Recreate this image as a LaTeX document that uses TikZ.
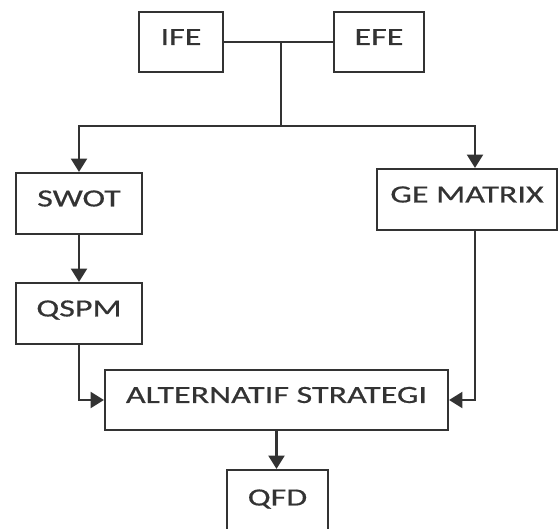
\documentclass[tikz,border=0pt]{standalone}
\usepackage{fontspec}
\setmainfont{Carlito}[FakeStretch=1.38,FakeBold=0.6]
\usetikzlibrary{arrows.meta}
\definecolor{ink}{gray}{0.2}

\begin{document}
\begin{tikzpicture}[x=0.75pt, y=-0.75pt, line width=1.6pt, draw=ink, text=ink]
    \useasboundingbox (0,0) rectangle (560,528);
    \tikzstyle{Box}=[draw, inner sep=0pt, font=\fontsize{18.5}{20}\selectfont,
                     text height=11.9pt, text depth=7.5pt]
    \tikzstyle{EdgeStyle}=[-{Triangle[width=12pt,length=10pt]}]
    \node[Box, minimum width=63pt, minimum height=45pt] (IFE) at (181,42) {IFE};
    \node[Box, minimum width=67.5pt, minimum height=45pt] (EFE) at (379,42) {EFE};
    \node[Box, minimum width=94.5pt, minimum height=45.75pt] (SWOT) at (79,203.5) {SWOT};
    \node[Box, minimum width=135pt, minimum height=45.75pt] (GE) at (467,199.5) {GE MATRIX};
    \node[Box, minimum width=94.5pt, minimum height=45.75pt] (QSPM) at (79,313.5) {QSPM};
    \node[Box, minimum width=257.25pt, minimum height=45pt] (ALT) at (276.5,400) {ALTERNATIF STRATEGI};
    \node[Box, minimum width=75.75pt, minimum height=48.75pt] (QFD) at (277.5,502.5) {QFD};
    \coordinate (join) at (281,42);
    \coordinate (split) at (281,126);
    \draw (IFE) -- (EFE);
    \draw (join) -- (split);
    \draw[EdgeStyle] (split) -| (SWOT);
    \draw[EdgeStyle] (split) -| ([xshift=6pt]GE.north);
    \draw[EdgeStyle] (SWOT) -- (QSPM);
    \draw[EdgeStyle] (QSPM) |- (ALT);
    \draw[EdgeStyle] ([xshift=6pt]GE.south) |- (ALT);
    \draw[EdgeStyle] (ALT.south) -- (ALT.south |- QFD.north);
\end{tikzpicture}
\end{document}
